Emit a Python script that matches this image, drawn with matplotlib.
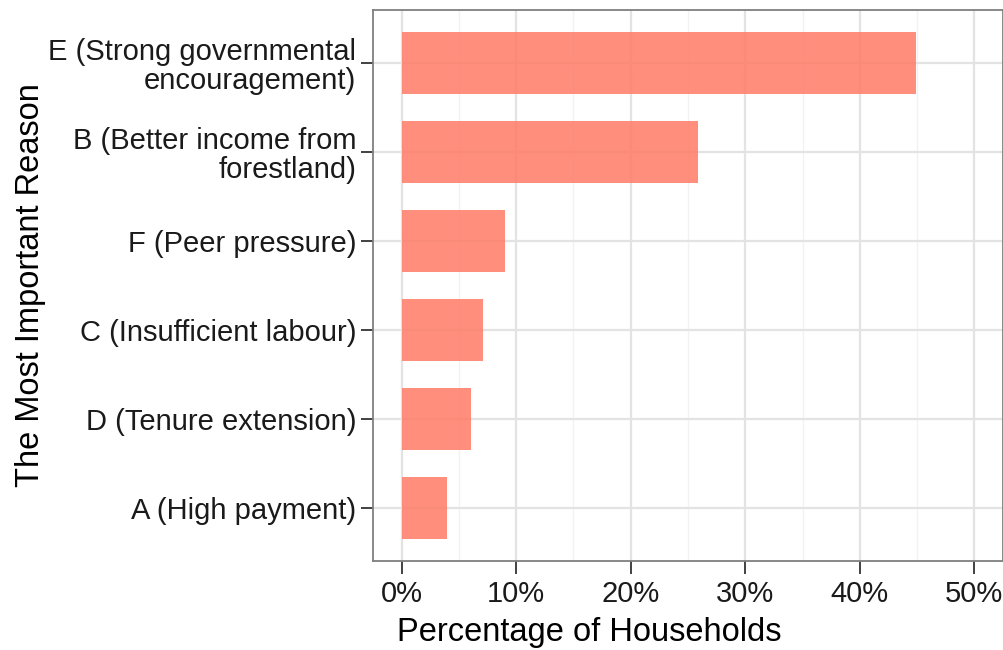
import numpy as np
import matplotlib.pyplot as plt
from matplotlib.ticker import MultipleLocator, FuncFormatter

plt.rcParams['font.family'] = ['Liberation Sans', 'DejaVu Sans']

reasons = ['A (High payment)', 'D (Tenure extension)', 'C (Insufficient labour)',
           'F (Peer pressure)', 'B (Better income from\nforestland)',
           'E (Strong governmental\nencouragement)']
pct = [4.0, 6.1, 7.1, 9.0, 25.9, 44.9]

fig = plt.figure(figsize=(10.04, 6.5), dpi=100)
ax = fig.add_axes([0.3715, 0.1369, 0.6275, 0.8477])

y = np.arange(1, len(reasons) + 1)
ax.barh(y, pct, height=0.7, color='#FF7F6B', alpha=0.88, zorder=3)

ax.set_xlim(-2.5, 52.5)
ax.set_ylim(0.4, 6.6)
ax.xaxis.set_major_locator(MultipleLocator(10))
ax.xaxis.set_minor_locator(MultipleLocator(5))
ax.xaxis.set_major_formatter(FuncFormatter(lambda v, p: f'{v:.0f}%'))
ax.set_yticks(y)
ax.set_yticklabels(reasons, ha='right', linespacing=1.05)

ax.grid(which='major', color='#e3e3e3', linewidth=1.6, zorder=0)
ax.grid(which='minor', axis='x', color='#f2f2f2', linewidth=1.0, zorder=0)
ax.tick_params(which='minor', length=0)
ax.tick_params(which='major', length=9, width=1.3, color='#333333',
               labelsize=21, labelcolor='#1a1a1a', pad=3)
ax.tick_params(axis='x', pad=5)
for s in ax.spines.values():
    s.set_color('#7f7f7f')
    s.set_linewidth(1.3)

ax.set_xlabel('Percentage of Households', fontsize=23.5, labelpad=8)
ax.xaxis.set_label_coords(0.343, -0.102, transform=ax.transAxes)
ax.xaxis.label.set_va('top')
ax.set_ylabel('The Most Important Reason', fontsize=23.5, labelpad=2)

fig.savefig('out.png', dpi=100)
